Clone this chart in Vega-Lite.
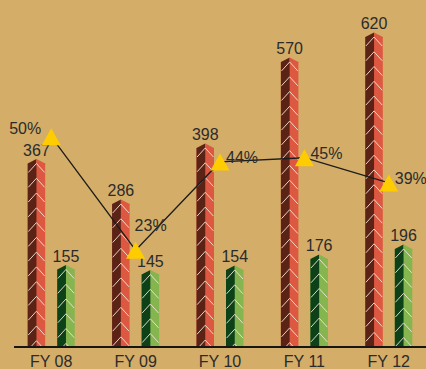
{
  "$schema": "https://vega.github.io/schema/vega-lite/v6.json",
  "width": 412,
  "height": 347,
  "autosize": "none",
  "padding": {"left": 14, "top": 0, "right": 0, "bottom": 22},
  "background": "#d4ad69",
  "view": {"stroke": null},
  "config": {
    "font": "Liberation Sans",
    "text": {"font": "Liberation Sans", "fontSize": 16, "color": "#2b2b2b"},
    "axis": {"labelFont": "Liberation Sans"}
  },
  "datasets": {
    "bars": [
      {"year": "FY 08", "series": "series1", "value": 367},
      {"year": "FY 08", "series": "series2", "value": 155},
      {"year": "FY 09", "series": "series1", "value": 286},
      {"year": "FY 09", "series": "series2", "value": 145},
      {"year": "FY 10", "series": "series1", "value": 398},
      {"year": "FY 10", "series": "series2", "value": 154},
      {"year": "FY 11", "series": "series1", "value": 570},
      {"year": "FY 11", "series": "series2", "value": 176},
      {"year": "FY 12", "series": "series1", "value": 620},
      {"year": "FY 12", "series": "series2", "value": 196}
    ],
    "growth": [
      {"year": "FY 08", "pct": 0.50},
      {"year": "FY 09", "pct": 0.23},
      {"year": "FY 10", "pct": 0.44},
      {"year": "FY 11", "pct": 0.45},
      {"year": "FY 12", "pct": 0.39}
    ]
  },
  "layer": [
    {
      "data": {"name": "bars"},
      "encoding": {
        "y": {"field": "value", "type": "quantitative", "scale": {"domain": [0, 694], "nice": false, "zero": true}, "axis": null}
      },
      "layer": [
        {
          "mark": {"type": "bar", "clip": true},
          "encoding": {
            "x": {"field": "year", "type": "nominal", "sort": null, "title": null,
                  "scale": {"range": [-5, 417], "paddingInner": 0, "paddingOuter": 0},
                  "axis": {"domain": false, "ticks": false, "labelAngle": 0, "labelFontSize": 16, "labelColor": "#2b2b2b", "labelBaseline": "alphabetic", "labelPadding": 19, "labelFont": "Liberation Sans"}},
            "xOffset": {"field": "series", "type": "nominal", "scale": {"domain": ["series1", "series2"], "paddingInner": 0.407, "paddingOuter": 0.634}},
            "fill": {"condition": {"test": "datum.series === 'series1'", "value": "#dd5840"}, "value": "#84b54f"}
          }
        },
        {
          "mark": {"type": "point", "shape": "M-8.75,0L0,-4.4L0,400L-8.75,400Z", "size": 4, "filled": true, "opacity": 1, "strokeWidth": 0, "clip": true},
          "encoding": {
            "x": {"field": "year", "type": "nominal", "sort": null, "title": null,
                  "scale": {"range": [-5, 417], "paddingInner": 0, "paddingOuter": 0},
                  "axis": {"domain": false, "ticks": false, "labelAngle": 0, "labelFontSize": 16, "labelColor": "#2b2b2b", "labelBaseline": "alphabetic", "labelPadding": 19, "labelFont": "Liberation Sans"}},
            "xOffset": {"field": "series", "type": "nominal", "scale": {"domain": ["series1", "series2"], "paddingInner": 0.407, "paddingOuter": 0.634}},
            "fill": {"condition": {"test": "datum.series === 'series1'", "value": "#5b2316"}, "value": "#0d4219"}
          }
        },
        {
          "mark": {"type": "point", "shape": "M0,-4.4L8.75,0L8.75,1L0,1Z", "size": 4, "filled": true, "opacity": 1, "strokeWidth": 0},
          "encoding": {
            "x": {"field": "year", "type": "nominal", "sort": null, "title": null,
                  "scale": {"range": [-5, 417], "paddingInner": 0, "paddingOuter": 0},
                  "axis": {"domain": false, "ticks": false, "labelAngle": 0, "labelFontSize": 16, "labelColor": "#2b2b2b", "labelBaseline": "alphabetic", "labelPadding": 19, "labelFont": "Liberation Sans"}},
            "xOffset": {"field": "series", "type": "nominal", "scale": {"domain": ["series1", "series2"], "paddingInner": 0.407, "paddingOuter": 0.634}},
            "fill": {"condition": {"test": "datum.series === 'series1'", "value": "#dd5840"}, "value": "#84b54f"}
          }
        },
        {
          "mark": {"type": "point", "shape": "M-8.2,9L0,0L8.2,9M-8.2,23.8L0,14.8L8.2,23.8M-8.2,38.5L0,29.5L8.2,38.5M-8.2,53.3L0,44.3L8.2,53.3M-8.2,68.1L0,59.1L8.2,68.1M-8.2,82.9L0,73.9L8.2,82.9M-8.2,97.6L0,88.6L8.2,97.6M-8.2,112.4L0,103.4L8.2,112.4M-8.2,127.2L0,118.2L8.2,127.2M-8.2,141.9L0,132.9L8.2,141.9M-8.2,156.7L0,147.7L8.2,156.7M-8.2,171.5L0,162.5L8.2,171.5M-8.2,186.2L0,177.2L8.2,186.2M-8.2,201L0,192L8.2,201M-8.2,215.8L0,206.8L8.2,215.8M-8.2,230.6L0,221.6L8.2,230.6M-8.2,245.3L0,236.3L8.2,245.3M-8.2,260.1L0,251.1L8.2,260.1M-8.2,274.9L0,265.9L8.2,274.9M-8.2,289.6L0,280.6L8.2,289.6M-8.2,304.4L0,295.4L8.2,304.4M-8.2,319.2L0,310.2L8.2,319.2M-8.2,333.9L0,324.9L8.2,333.9M-8.2,348.7L0,339.7L8.2,348.7",
                   "size": 4, "filled": false, "opacity": 1, "stroke": "#f3e4d6", "strokeWidth": 0.9, "clip": true},
          "encoding": {
            "x": {"field": "year", "type": "nominal", "sort": null, "title": null,
                  "scale": {"range": [-5, 417], "paddingInner": 0, "paddingOuter": 0},
                  "axis": {"domain": false, "ticks": false, "labelAngle": 0, "labelFontSize": 16, "labelColor": "#2b2b2b", "labelBaseline": "alphabetic", "labelPadding": 19, "labelFont": "Liberation Sans"}},
            "xOffset": {"field": "series", "type": "nominal", "scale": {"domain": ["series1", "series2"], "paddingInner": 0.407, "paddingOuter": 0.634}}
          }
        },
        {
          "mark": {"type": "rule", "color": "#161616", "strokeWidth": 2},
          "encoding": {"y": {"datum": 0}}
        },
        {
          "mark": {"type": "text", "align": "center", "baseline": "alphabetic", "dy": -8, "fontSize": 16, "color": "#2b2b2b", "font": "Liberation Sans"},
          "encoding": {
            "x": {"field": "year", "type": "nominal", "sort": null, "title": null,
                  "scale": {"range": [-5, 417], "paddingInner": 0, "paddingOuter": 0},
                  "axis": {"domain": false, "ticks": false, "labelAngle": 0, "labelFontSize": 16, "labelColor": "#2b2b2b", "labelBaseline": "alphabetic", "labelPadding": 19, "labelFont": "Liberation Sans"}},
            "xOffset": {"field": "series", "type": "nominal", "scale": {"domain": ["series1", "series2"], "paddingInner": 0.407, "paddingOuter": 0.634}},
            "text": {"field": "value", "type": "quantitative"}
          }
        }
      ]
    },
    {
      "data": {"name": "growth"},
      "encoding": {
        "x": {"field": "year", "type": "nominal", "sort": null, "title": null,
              "scale": {"range": [-5, 417], "paddingInner": 0, "paddingOuter": 0},
              "axis": {"domain": false, "ticks": false, "labelAngle": 0, "labelFontSize": 16, "labelColor": "#2b2b2b", "labelBaseline": "alphabetic", "labelPadding": 19, "labelFont": "Liberation Sans"}},
        "y": {"field": "pct", "type": "quantitative", "scale": {"domain": [0, 0.825], "nice": false, "zero": true}, "axis": null}
      },
      "layer": [
        {"mark": {"type": "line", "color": "#1c1c1c", "strokeWidth": 1.3}},
        {"mark": {"type": "point", "shape": "M0,-0.9L1,0.9L-1,0.9Z", "size": 361, "filled": true, "opacity": 1, "color": "#ffcc00", "strokeWidth": 0}},
        {
          "transform": [{"filter": "datum.year === 'FY 08'"}],
          "mark": {"type": "text", "align": "right", "baseline": "alphabetic", "dx": -10, "dy": -3, "fontSize": 16, "color": "#2b2b2b", "font": "Liberation Sans"},
          "encoding": {"text": {"field": "pct", "type": "quantitative", "format": ".0%"}}
        },
        {
          "transform": [{"filter": "datum.year === 'FY 09'"}],
          "mark": {"type": "text", "align": "left", "baseline": "alphabetic", "dx": -1, "dy": -19, "fontSize": 16, "color": "#2b2b2b", "font": "Liberation Sans"},
          "encoding": {"text": {"field": "pct", "type": "quantitative", "format": ".0%"}}
        },
        {
          "transform": [{"filter": "datum.year !== 'FY 08' && datum.year !== 'FY 09'"}],
          "mark": {"type": "text", "align": "left", "baseline": "alphabetic", "dx": 6, "dy": 1, "fontSize": 16, "color": "#2b2b2b", "font": "Liberation Sans"},
          "encoding": {"text": {"field": "pct", "type": "quantitative", "format": ".0%"}}
        }
      ]
    }
  ],
  "resolve": {"scale": {"y": "independent"}}
}
